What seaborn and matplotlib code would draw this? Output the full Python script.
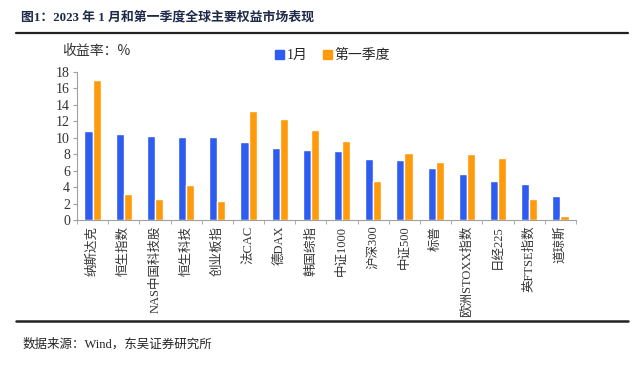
import pandas as pd
import matplotlib.pyplot as plt
import seaborn as sns
from matplotlib.lines import Line2D

# data
markets = ['纳斯达克', '恒生指数', 'NAS中国科技股', '恒生科技', '创业板指', '法CAC',
           '德DAX', '韩国综指', '中证1000', '沪深300', '中证500', '标普',
           '欧洲STOXX指数', '日经225', '英FTSE指数', '道琼斯']
jan = [10.8, 10.5, 10.2, 10.1, 10.1, 9.5, 8.8, 8.5, 8.4, 7.4, 7.3, 6.3, 5.6, 4.8, 4.4, 2.9]
q1 = [17.0, 3.2, 2.6, 4.3, 2.3, 13.2, 12.3, 10.9, 9.6, 4.7, 8.2, 7.1, 8.0, 7.6, 2.5, 0.5]
series = ['1月', '第一季度']

df = pd.DataFrame({
    'market': markets * 2,
    'series': [series[0]] * len(jan) + [series[1]] * len(q1),
    'ret': jan + q1,
})

sns.set_style('white')
plt.rcParams['font.family'] = ['Liberation Serif', 'Noto Sans CJK SC', 'DejaVu Sans']

fig = plt.figure(figsize=(6.4, 3.67), dpi=100)
ax = fig.add_axes([0.1203, 0.4005, 0.7797, 0.4033])

sns.barplot(data=df, x='market', y='ret', hue='series', order=markets,
            palette=['#2F5CF0', '#FF9A0A'], width=0.52, saturation=1,
            ax=ax, legend=False)

ax.set_xlim(-0.5, len(markets) - 0.5)
ax.set_ylim(0, 18)
ax.set_yticks(range(0, 19, 2))
ax.set_xlabel('')
ax.set_ylabel('')
for s in ['top', 'right']:
    ax.spines[s].set_visible(False)
for s in ['left', 'bottom']:
    ax.spines[s].set_color('#a0a0a0')
    ax.spines[s].set_linewidth(0.8)

ax.tick_params(axis='y', labelsize=10, length=3, color='#a0a0a0', left=True, pad=2)
ax.tick_params(axis='x', which='major', length=0, labelsize=9, pad=4)
ax.set_xticks([i + 0.5 for i in range(-1, len(markets))], minor=True)
ax.tick_params(axis='x', which='minor', length=3, color='#a0a0a0', bottom=True)
plt.setp(ax.get_xticklabels(), rotation=90, va='top', ha='center', color='#333333')
plt.setp(ax.get_yticklabels(), color='#333333')

# legend
handles = [plt.Rectangle((0, 0), 1, 1, color=c) for c in ['#2F5CF0', '#FF9A0A']]
fig.legend(handles, series, loc='center left', bbox_to_anchor=(0.41, 0.848),
           ncol=2, frameon=False, fontsize=10, handlelength=0.65, handleheight=0.65,
           handletextpad=0.2, columnspacing=1.1)

fig.text(0.097, 0.862, '收益率：%', fontsize=10, color='#333333', va='center',
         family=['Noto Sans CJK SC'])

fig.text(0.033, 0.953, '图1：2023 年 1 月和第一季度全球主要权益市场表现', fontsize=9.3,
         fontweight='bold', color='#1f2a48', va='center',
         family=['Liberation Serif', 'Noto Sans CJK SC'])
fig.add_artist(Line2D([0.025, 0.982], [0.91, 0.91], color='#222222', lw=1.6))
fig.add_artist(Line2D([0.025, 0.982], [0.125, 0.125], color='#222222', lw=1.8))
fig.text(0.035, 0.06, '数据来源：Wind，东吴证券研究所', fontsize=9, color='#222222', va='center')

fig.savefig('out.png', dpi=100)
